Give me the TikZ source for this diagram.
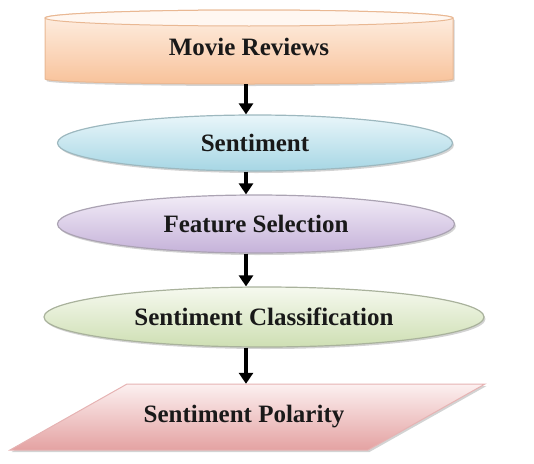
\documentclass[tikz,border=0pt]{standalone}
\usepackage{fontspec}
\setmainfont{Liberation Serif}
\usetikzlibrary{shapes.geometric,arrows.meta,shadows}
\definecolor{cylTop}{HTML}{FEF1E6}
\definecolor{cylBot}{HTML}{F8C29A}
\definecolor{cylLine}{HTML}{E9B893}
\definecolor{cylCap}{HTML}{FFF7F1}
\definecolor{senTop}{HTML}{E9F6FA}
\definecolor{senBot}{HTML}{A6D6E4}
\definecolor{senLine}{HTML}{9DB8BF}
\definecolor{feaTop}{HTML}{F2ECF7}
\definecolor{feaBot}{HTML}{C5B2D9}
\definecolor{feaLine}{HTML}{ABA3B3}
\definecolor{claTop}{HTML}{F6F9EF}
\definecolor{claBot}{HTML}{CEDFB3}
\definecolor{claLine}{HTML}{A9B29C}
\definecolor{polTop}{HTML}{FCF0F0}
\definecolor{polBot}{HTML}{E4A2A2}
\definecolor{polLine}{HTML}{E6B3B3}
\tikzset{
  lbl/.style={font=\fontsize{25}{30}\selectfont\bfseries, text=black!90, inner sep=0pt},
  oval/.style={ellipse, lbl, line width=1.2pt},
  shd/.style={drop shadow={opacity=0.35, shadow xshift=1.5pt, shadow yshift=-2pt}},
  arr/.style={line width=3.5pt, -{Triangle[width=14pt,length=11pt]}}
}
\begin{document}
\begin{tikzpicture}[x=1pt,y=-1pt]
\useasboundingbox (0,0) rectangle (534,463);
% cylinder shape
\path[shd, draw=cylLine, line width=1pt, top color=cylTop, bottom color=cylBot]
  (45,18) -- (45,79) arc[start angle=180,end angle=360,x radius=204pt,y radius=5pt]
  -- (453,18) arc[start angle=0,end angle=180,x radius=204pt,y radius=8pt] -- cycle;
\draw[draw=cylLine, line width=1pt, fill=cylCap] (249,18) ellipse[x radius=204pt, y radius=8pt];
\node[lbl, minimum width=408pt, minimum height=74pt] (mr) at (249,47) {Movie Reviews};
% ellipses
\node[oval, shd, draw=senLine, top color=senTop, bottom color=senBot,
      minimum width=395pt, minimum height=56pt] (sen) at (255,143) {Sentiment};
\node[oval, shd, draw=feaLine, top color=feaTop, bottom color=feaBot,
      minimum width=397pt, minimum height=58pt] (fea) at (256,224) {Feature Selection};
\node[oval, shd, draw=claLine, top color=claTop, bottom color=claBot,
      minimum width=440pt, minimum height=60pt] (cla) at (264,317) {Sentiment Classification};
% parallelogram
\path[shd, draw=polLine, line width=1pt, top color=polTop, bottom color=polBot]
  (127,384) -- (485,384) -- (368,450) -- (10,450) -- cycle;
\node[lbl, minimum width=240pt, minimum height=66pt] (pol) at (244,417) {Sentiment Polarity};
% arrows
\coordinate (ax) at (246,0);
\draw[arr] (mr.south -| ax) -- (sen.north -| ax);
\draw[arr] (sen.south -| ax) -- (fea.north -| ax);
\draw[arr] (fea.south -| ax) -- (cla.north -| ax);
\draw[arr] (cla.south -| ax) -- (pol.north -| ax);
\end{tikzpicture}
\end{document}
